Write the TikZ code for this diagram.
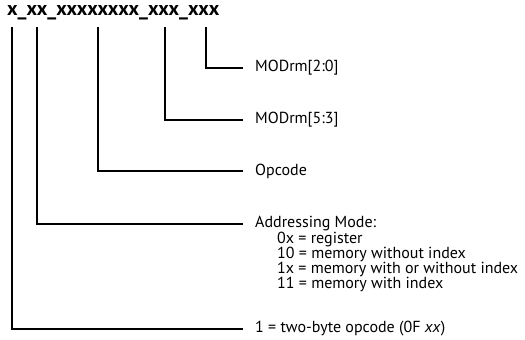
\documentclass[tikz,border=0pt]{standalone}
\usepackage{fontspec}
\setmainfont{PT Sans}
\begin{document}
\begin{tikzpicture}[x=1pt, y=-1pt,
    every node/.style={font=\fontsize{16}{15}\selectfont},
    fieldlabel/.style={anchor=west, inner xsep=12pt, inner ysep=0pt},
    leader/.style={line width=1.2pt}]
    \useasboundingbox (0,0) rectangle (525,340);
    % bit-field string
    \node[anchor=south west, inner sep=0pt, font=\fontsize{20}{22}\selectfont\bfseries] (bits) at (7,20) {x\_xx\_xxxxxxxx\_xxx\_xxx};
    % tick tops under each field
    \coordinate (twobyte) at (12,27);
    \coordinate (addr) at (37,27);
    \coordinate (opc) at (98,27);
    \coordinate (reg) at (165,27);
    \coordinate (rm) at (206,27);
    % labels
    \node[fieldlabel] (rmlabel) at (243,68) {MODrm[2:0]};
    \node[fieldlabel] (reglabel) at (243,120) {MODrm[5:3]};
    \node[fieldlabel] (opclabel) at (243,171) {Opcode};
    \node[fieldlabel] (addrlabel) at (243,224) {Addressing Mode:};
    \node[anchor=north west, inner sep=0pt, align=left] (addrlist) at (277,232) {0x = register\\10 = memory without index\\1x = memory with or without index\\11 = memory with index};
    \node[fieldlabel] (twobytelabel) at (243,329) {1 = two-byte opcode (0F \textit{xx})};
    % leaders
    \draw[leader] (rm) |- (rmlabel.west);
    \draw[leader] (reg) |- (reglabel.west);
    \draw[leader] (opc) |- (opclabel.west);
    \draw[leader] (addr) |- (addrlabel.west);
    \draw[leader] (twobyte) |- (twobytelabel.west);
\end{tikzpicture}
\end{document}
